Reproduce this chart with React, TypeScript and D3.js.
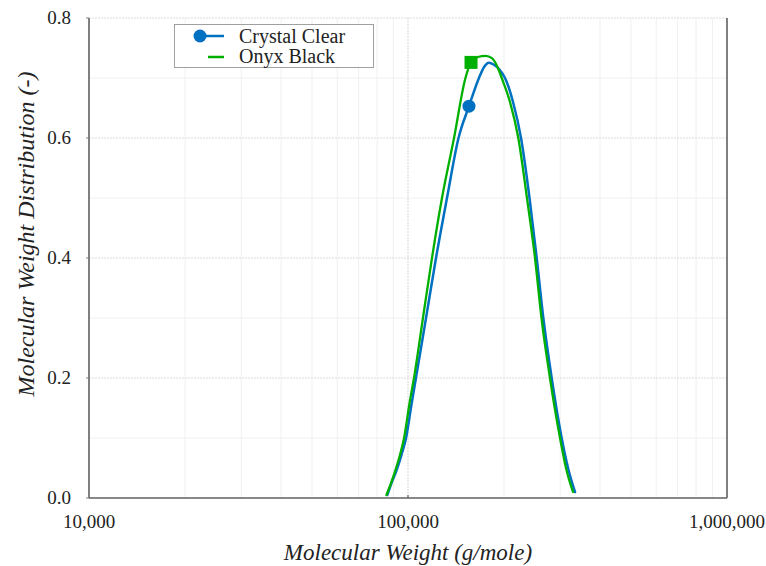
import React from "react";
import * as d3 from "d3";

const crystalMW = [86100, 88800, 92200, 95400, 98600, 102700, 105900, 113900, 122400, 132500, 144000, 155300, 166900, 173000, 179400, 186000, 193500, 201400, 213400, 226100, 240400, 253200, 265600, 282100, 303200, 317400, 333800];
const crystalMWD = [0.005, 0.025, 0.047, 0.072, 0.1, 0.158, 0.2, 0.3, 0.4, 0.5, 0.6, 0.653, 0.70, 0.718, 0.7255, 0.722, 0.714, 0.70, 0.66, 0.6, 0.5, 0.4, 0.3, 0.2, 0.1, 0.05, 0.01];

const onyxMW = [85600, 88500, 91400, 94400, 97200, 101100, 104400, 111400, 118900, 127800, 139400, 151400, 157600, 165700, 175200, 183300, 190100, 196700, 208800, 221700, 236000, 250100, 262100, 278600, 299600, 312800, 329000];
const onyxMWD = [0.005, 0.025, 0.047, 0.072, 0.1, 0.158, 0.2, 0.3, 0.4, 0.5, 0.6, 0.70, 0.726, 0.735, 0.737, 0.733, 0.72, 0.70, 0.66, 0.6, 0.5, 0.4, 0.3, 0.2, 0.1, 0.05, 0.01];

const crystalMarker = { mw: 155300, v: 0.653 };
const onyxMarker = { mw: 157600, v: 0.726 };

const xTicks = [10000, 100000, 1000000];
const yTicks = [0, 0.2, 0.4, 0.6, 0.8];
const yMinor = [0.1, 0.3, 0.5, 0.7];
const seriesNames = ["Crystal Clear", "Onyx Black"];

const BLUE = "#0070C0";
const GREEN = "#00B000";
const FONT = "Liberation Serif";

export default function App() {
  const W = 766, H = 566;
  const left = 89, right = 727, top = 18, bottom = 498;
  const x = d3.scaleLog().domain([10000, 1000000]).range([left, right]);
  const y = d3.scaleLinear().domain([0, 0.8]).range([bottom, top]);

  const minorX: number[] = [];
  for (const dec of [10000, 100000]) for (let k = 2; k <= 9; k++) minorX.push(dec * k);

  const line = d3
    .line<[number, number]>()
    .x((d) => x(d[0]))
    .y((d) => y(d[1]))
    .curve(d3.curveMonotoneX);

  const crystal = crystalMW.map((m, i) => [m, crystalMWD[i]] as [number, number]);
  const onyx = onyxMW.map((m, i) => [m, onyxMWD[i]] as [number, number]);

  const fmt = d3.format(",");

  return (
    <svg width={W} height={H} fontFamily={FONT} style={{ position: "absolute", left: 0, top: 0, fontFamily: FONT }}>
      <rect x={0} y={0} width={W} height={H} fill="#fff" />
      {minorX.map((v) => (
        <line key={"mx" + v} x1={x(v)} x2={x(v)} y1={top} y2={bottom} stroke="#f0f0f0" strokeWidth={1} />
      ))}
      {yMinor.map((v) => (
        <line key={"my" + v} x1={left} x2={right} y1={y(v)} y2={y(v)} stroke="#f0f0f0" strokeWidth={1} />
      ))}
      {yTicks.filter((v) => v > 0).map((v) => (
        <line key={"gy" + v} x1={left} x2={right} y1={y(v)} y2={y(v)} stroke="#dcdcdc" strokeWidth={1.2} strokeDasharray="2,1" />
      ))}
      <line x1={x(100000)} x2={x(100000)} y1={top} y2={bottom} stroke="#dcdcdc" strokeWidth={1.2} strokeDasharray="2,1" />

      <line x1={left} x2={left} y1={top} y2={bottom} stroke="#606060" strokeWidth={1.6} />
      <line x1={left} x2={right} y1={bottom} y2={bottom} stroke="#606060" strokeWidth={1.6} />
      <line x1={right} x2={right} y1={top} y2={bottom} stroke="#606060" strokeWidth={1.6} />
      {yTicks.map((v) => (
        <line key={"ty" + v} x1={left - 3} x2={left} y1={y(v)} y2={y(v)} stroke="#808080" strokeWidth={1} />
      ))}
      <line x1={x(100000)} x2={x(100000)} y1={bottom - 3} y2={bottom} stroke="#606060" strokeWidth={1.2} />

      {yTicks.map((v) => (
        <text key={"ly" + v} x={left - 18} y={y(v) + 6} textAnchor="end" fontFamily={FONT} style={{ fontFamily: FONT }} fontSize={19} fill="#222">
          {v.toFixed(1)}
        </text>
      ))}
      {xTicks.map((v) => (
        <text key={"lx" + v} x={x(v)} y={528} textAnchor="middle" fontFamily={FONT} style={{ fontFamily: FONT }} fontSize={19} fill="#222">
          {fmt(v)}
        </text>
      ))}

      <text x={x(100000)} y={560} textAnchor="middle" fontFamily={FONT} fontStyle="italic" style={{ fontFamily: FONT, fontStyle: "italic" }} fontSize={23} fill="#222">
        Molecular Weight (g/mole)
      </text>
      <text transform={`translate(34,234) rotate(-90)`} textAnchor="middle" fontFamily={FONT} fontStyle="italic" style={{ fontFamily: FONT, fontStyle: "italic" }} fontSize={24} fill="#222">
        Molecular Weight Distribution (-)
      </text>

      <path d={line(crystal) || ""} fill="none" stroke={BLUE} strokeWidth={2.5} strokeLinecap="round" />
      <path d={line(onyx) || ""} fill="none" stroke={GREEN} strokeWidth={2.3} strokeLinecap="round" />
      <circle cx={x(crystalMarker.mw)} cy={y(crystalMarker.v)} r={6.5} fill={BLUE} />
      <rect x={x(onyxMarker.mw) - 6.5} y={y(onyxMarker.v) - 6.5} width={13} height={13} fill={GREEN} />

      <rect x={174.5} y={24.5} width={199} height={43} fill="#fff" stroke="#a0a0a0" strokeWidth={1} />
      <line x1={200} x2={224} y1={36} y2={36} stroke={BLUE} strokeWidth={2.5} />
      <circle cx={200} cy={36} r={6.5} fill={BLUE} />
      <text x={239} y={43} fontFamily={FONT} style={{ fontFamily: FONT }} fontSize={20} fill="#222">{seriesNames[0]}</text>
      <line x1={208} x2={224} y1={57} y2={57} stroke={GREEN} strokeWidth={2.5} />
      <text x={239} y={63} fontFamily={FONT} style={{ fontFamily: FONT }} fontSize={20} fill="#222">{seriesNames[1]}</text>
    </svg>
  );
}
